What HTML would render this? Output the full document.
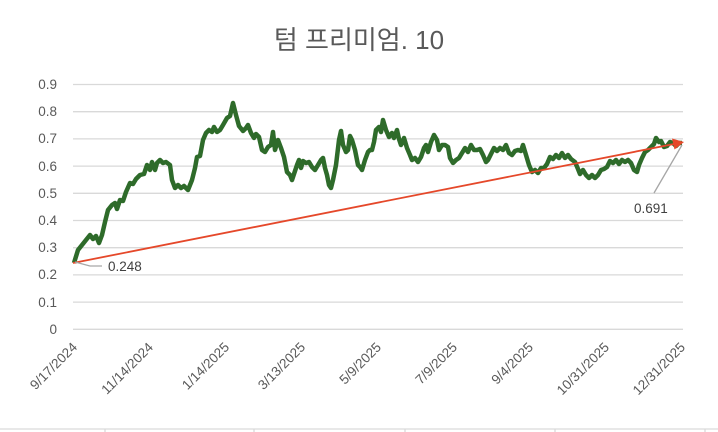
<!DOCTYPE html>
<html><head><meta charset="utf-8"><style>body{margin:0;background:#fff}svg{display:block}</style></head><body>
<svg width="718" height="432" xmlns="http://www.w3.org/2000/svg" font-family="Liberation Sans, sans-serif">
<rect width="718" height="432" fill="#fff"/>
<text x="359" y="49" text-anchor="middle" font-size="26" fill="#595959" font-family="Liberation Sans, Noto Sans CJK KR, sans-serif">텀 프리미엄. 10</text>
<g stroke="#d9d9d9" stroke-width="1.3">
<line x1="73" x2="683" y1="84.5" y2="84.5"/><line x1="73" x2="683" y1="111.7" y2="111.7"/><line x1="73" x2="683" y1="138.9" y2="138.9"/><line x1="73" x2="683" y1="166.1" y2="166.1"/><line x1="73" x2="683" y1="193.3" y2="193.3"/><line x1="73" x2="683" y1="220.5" y2="220.5"/><line x1="73" x2="683" y1="247.7" y2="247.7"/><line x1="73" x2="683" y1="274.9" y2="274.9"/><line x1="73" x2="683" y1="302.1" y2="302.1"/><line x1="73" x2="683" y1="329.3" y2="329.3"/>
<line x1="0" x2="718" y1="429" y2="429"/><line x1="105" x2="105" y1="429" y2="432"/><line x1="254" x2="254" y1="429" y2="432"/><line x1="405" x2="405" y1="429" y2="432"/><line x1="555" x2="555" y1="429" y2="432"/><line x1="705" x2="705" y1="429" y2="432"/>
</g>
<g font-size="13.5" fill="#595959" text-anchor="end">
<text x="57" y="89">0.9</text><text x="57" y="116">0.8</text><text x="57" y="143">0.7</text><text x="57" y="171">0.6</text><text x="57" y="198">0.5</text><text x="57" y="225">0.4</text><text x="57" y="252">0.3</text><text x="57" y="279">0.2</text><text x="57" y="307">0.1</text><text x="57" y="334">0</text>
</g>
<g font-size="13.5" fill="#595959" text-anchor="end">
<text transform="translate(78,348) rotate(-45)">9/17/2024</text>
<text transform="translate(154,348) rotate(-45)">11/14/2024</text>
<text transform="translate(230,348) rotate(-45)">1/14/2025</text>
<text transform="translate(306,348) rotate(-45)">3/13/2025</text>
<text transform="translate(382,348) rotate(-45)">5/9/2025</text>
<text transform="translate(458,348) rotate(-45)">7/9/2025</text>
<text transform="translate(534,348) rotate(-45)">9/4/2025</text>
<text transform="translate(610,348) rotate(-45)">10/31/2025</text>
<text transform="translate(686,348) rotate(-45)">12/31/2025</text>
</g>
<polyline fill="none" stroke="#2e6b2a" stroke-width="4.5" stroke-linejoin="round" points="74,263 78,250 82,245 86,240 90,235 93,239 96,236 99,243 102,235 105,222 108,210 112,205 115,203 117,209 120,200 123,201 126,192 130,183 133,184 136,179 140,175 144,174 147,165 150,170 152,162 155,170 157,163 160,160 163,163 166,162 170,165 172,180 175,188 178,185 181,188 184,186 188,190 192,180 195,168 197,157 200,156 203,140 206,133 209,130 212,132 214,127 217,132 220,130 223,125 227,118 230,116 233,103 236,115 239,126 243,131 246,128 248,125 251,133 254,138 256,134 259,137 262,150 265,152 268,147 271,145 273,132 275,150 278,140 281,148 284,157 287,172 290,175 292,180 295,171 297,165 299,160 301,168 303,161 306,163 309,162 312,167 315,170 318,165 321,160 323,158 325,168 327,175 329,185 331,188 333,180 336,165 339,140 341,131 343,145 346,152 348,150 350,136 352,140 355,150 358,165 360,167 362,170 365,160 368,152 370,150 372,150 374,142 376,130 379,127 381,132 383,120 386,130 389,137 392,133 394,138 397,130 399,139 401,145 404,138 407,148 410,155 412,160 415,158 418,162 421,157 424,148 426,145 428,152 431,142 434,135 437,140 439,150 442,145 445,145 448,147 450,158 453,163 456,160 459,158 462,153 465,148 468,152 471,145 474,150 477,150 480,149 483,155 486,162 488,160 491,154 494,148 497,151 500,148 503,150 506,145 509,153 512,155 515,151 518,150 521,151 523,145 526,155 529,165 532,172 535,170 538,173 541,168 544,168 547,164 550,157 553,159 556,155 559,158 562,153 565,158 568,155 571,159 575,162 578,169 580,174 583,170 586,175 589,178 592,175 595,178 598,175 601,170 604,169 607,167 610,161 613,163 616,160 619,164 622,160 625,162 628,160 631,163 634,170 637,172 639,165 642,158 645,152 648,150 651,147 654,144 656,138 659,142 661,141 664,147 667,146 670,142 673,143 676,146 679,143 682,143"/>
<line x1="73" y1="263" x2="674" y2="144" stroke="#e5482a" stroke-width="1.8"/>
<polygon points="684,142 672,138.5 674.5,149.5" fill="#e5482a"/>
<polyline points="75,262 90,266 102,266" fill="none" stroke="#a6a6a6" stroke-width="1.3"/>
<line x1="654" y1="193" x2="682" y2="145" stroke="#a6a6a6" stroke-width="1.3"/>
<text x="108" y="271" font-size="13.5" fill="#404040">0.248</text>
<text x="634" y="213" font-size="13.5" fill="#404040">0.691</text>
</svg>
</body></html>
